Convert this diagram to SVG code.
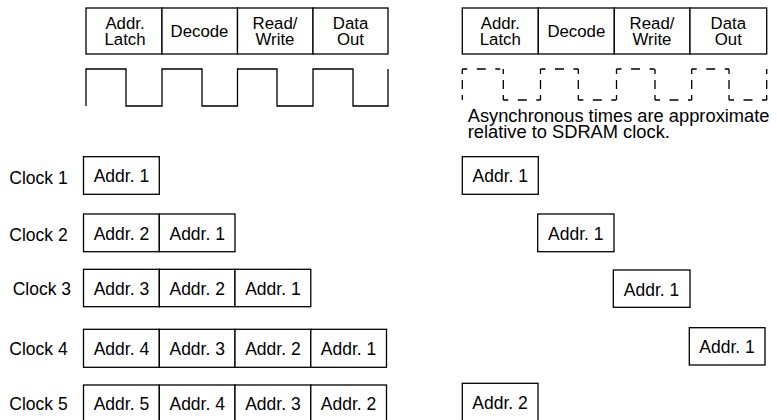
<svg xmlns="http://www.w3.org/2000/svg" width="777" height="420" viewBox="0 0 777 420">
  <style>
    text { font-family: "Liberation Sans", Arial, sans-serif; font-size: 17.5px; fill: #000; }
    .c { text-anchor: middle; }
    .hd { font-size: 16.8px; }
    .note { font-size: 18.3px; }
    .box { fill: #fff; stroke: #000; stroke-width: 1.3; }
    .wave { fill: none; stroke: #000; stroke-width: 1.3; }
    .dh { fill: none; stroke: #000; stroke-width: 1.3; stroke-dasharray: 5 9.5 9 9.5 5 100; }
    .dv { fill: none; stroke: #000; stroke-width: 1.3; stroke-dasharray: 5 6 9 6 5 100; }
  </style>
  <rect width="777" height="420" fill="#fff"/>

  <!-- Synchronous pipeline stages -->
  <g id="sync-stages">
    <rect class="box" x="86" y="8" width="76" height="46"/>
    <rect class="box" x="162" y="8" width="75.5" height="46"/>
    <rect class="box" x="237.5" y="8" width="75.5" height="46"/>
    <rect class="box" x="313" y="8" width="75" height="46"/>
    <text class="c hd" x="125" y="29.3">Addr.</text>
    <text class="c hd" x="125" y="44.7">Latch</text>
    <text class="c hd" x="199.5" y="37.3">Decode</text>
    <text class="c hd" x="275" y="29.3">Read/</text>
    <text class="c hd" x="275" y="44.7">Write</text>
    <text class="c hd" x="350.5" y="29.3">Data</text>
    <text class="c hd" x="350.5" y="44.7">Out</text>
  </g>

  <!-- SDRAM clock -->
  <g id="sync-clock">
    <path class="wave" d="M86,106 V69 H126 V106 H162 V69 H202 V106 H237.5 V69 H277 V106 H313 V69 H353 V106 H388 V69"/>
  </g>

  <!-- Asynchronous stages -->
  <g id="async-stages">
    <rect class="box" x="462.3" y="8" width="76" height="46"/>
    <rect class="box" x="538.3" y="8" width="76" height="46"/>
    <rect class="box" x="614.3" y="8" width="75.7" height="46"/>
    <rect class="box" x="690" y="8" width="76.7" height="46"/>
    <text class="c hd" x="500.3" y="29.3">Addr.</text>
    <text class="c hd" x="500.3" y="44.7">Latch</text>
    <text class="c hd" x="576.3" y="37.3">Decode</text>
    <text class="c hd" x="652" y="29.3">Read/</text>
    <text class="c hd" x="652" y="44.7">Write</text>
    <text class="c hd" x="728.3" y="29.3">Data</text>
    <text class="c hd" x="728.3" y="44.7">Out</text>
  </g>

  <!-- Approximate asynchronous timing -->
  <g id="async-clock">
    <path class="dv" d="M462.3,100 V69"/>
    <path class="dh" d="M462.3,69 H503.3"/>
    <path class="dv" d="M503.3,69 V100"/>
    <path class="dh" d="M503.3,100 H540.5"/>
    <path class="dv" d="M540.5,100 V69"/>
    <path class="dh" d="M540.5,69 H578.3"/>
    <path class="dv" d="M578.3,69 V100"/>
    <path class="dh" d="M578.3,100 H616.5"/>
    <path class="dv" d="M616.5,100 V69"/>
    <path class="dh" d="M616.5,69 H655"/>
    <path class="dv" d="M655,69 V100"/>
    <path class="dh" d="M655,100 H691.7"/>
    <path class="dv" d="M691.7,100 V69"/>
    <path class="dh" d="M691.7,69 H729"/>
    <path class="dv" d="M729,69 V100"/>
    <path class="dh" d="M729,100 H766.7"/>
    <path class="dv" d="M766.7,100 V69"/>
    <text class="note" x="467.7" y="122">Asynchronous times are approximate</text>
    <text class="note" x="467.7" y="137.5">relative to SDRAM clock.</text>
  </g>

  <!-- Clock labels -->
  <g id="clock-labels">
    <text x="9.3" y="184">Clock 1</text>
    <text x="9.3" y="240.5">Clock 2</text>
    <text x="12.7" y="295">Clock 3</text>
    <text x="9.3" y="355">Clock 4</text>
    <text x="9.3" y="410">Clock 5</text>
  </g>

  <!-- Pipelined addresses -->
  <g id="pipe-clock1">
    <rect class="box" x="83.5" y="156.7" width="75.8" height="37.6"/>
    <text class="c" x="121.4" y="182.3">Addr. 1</text>
  </g>
  <g id="pipe-clock2">
    <rect class="box" x="83.5" y="214" width="75.8" height="37.7"/>
    <rect class="box" x="159.3" y="214" width="75.7" height="37.7"/>
    <text class="c" x="121.4" y="240">Addr. 2</text>
    <text class="c" x="197.2" y="240">Addr. 1</text>
  </g>
  <g id="pipe-clock3">
    <rect class="box" x="83.5" y="269.3" width="75.8" height="37.4"/>
    <rect class="box" x="159.3" y="269.3" width="75.7" height="37.4"/>
    <rect class="box" x="235" y="269.3" width="75.8" height="37.4"/>
    <text class="c" x="121.4" y="295">Addr. 3</text>
    <text class="c" x="197.2" y="295">Addr. 2</text>
    <text class="c" x="272.9" y="295">Addr. 1</text>
  </g>
  <g id="pipe-clock4">
    <rect class="box" x="83.5" y="329.3" width="75.8" height="38"/>
    <rect class="box" x="159.3" y="329.3" width="75.7" height="38"/>
    <rect class="box" x="235" y="329.3" width="75.8" height="38"/>
    <rect class="box" x="310.8" y="329.3" width="75.7" height="38"/>
    <text class="c" x="121.4" y="355">Addr. 4</text>
    <text class="c" x="197.2" y="355">Addr. 3</text>
    <text class="c" x="272.9" y="355">Addr. 2</text>
    <text class="c" x="348.6" y="355">Addr. 1</text>
  </g>
  <g id="pipe-clock5">
    <rect class="box" x="83.5" y="385" width="75.8" height="40"/>
    <rect class="box" x="159.3" y="385" width="75.7" height="40"/>
    <rect class="box" x="235" y="385" width="75.8" height="40"/>
    <rect class="box" x="310.8" y="385" width="75.7" height="40"/>
    <text class="c" x="121.4" y="409.5">Addr. 5</text>
    <text class="c" x="197.2" y="409.5">Addr. 4</text>
    <text class="c" x="272.9" y="409.5">Addr. 3</text>
    <text class="c" x="348.6" y="409.5">Addr. 2</text>
  </g>

  <!-- Non-pipelined addresses -->
  <g id="async-clock1">
    <rect class="box" x="462.3" y="156.7" width="76" height="37.6"/>
    <text class="c" x="500.3" y="182.3">Addr. 1</text>
  </g>
  <g id="async-clock2">
    <rect class="box" x="537.7" y="214" width="76.3" height="37.7"/>
    <text class="c" x="575.8" y="240">Addr. 1</text>
  </g>
  <g id="async-clock3">
    <rect class="box" x="613.3" y="270" width="76.7" height="37.3"/>
    <text class="c" x="651.6" y="295.5">Addr. 1</text>
  </g>
  <g id="async-clock4">
    <rect class="box" x="689.3" y="327.7" width="75.7" height="37.3"/>
    <text class="c" x="727.1" y="353.3">Addr. 1</text>
  </g>
  <g id="async-clock5">
    <rect class="box" x="462.3" y="383.3" width="75.7" height="40"/>
    <text class="c" x="500.1" y="408.5">Addr. 2</text>
  </g>
</svg>
